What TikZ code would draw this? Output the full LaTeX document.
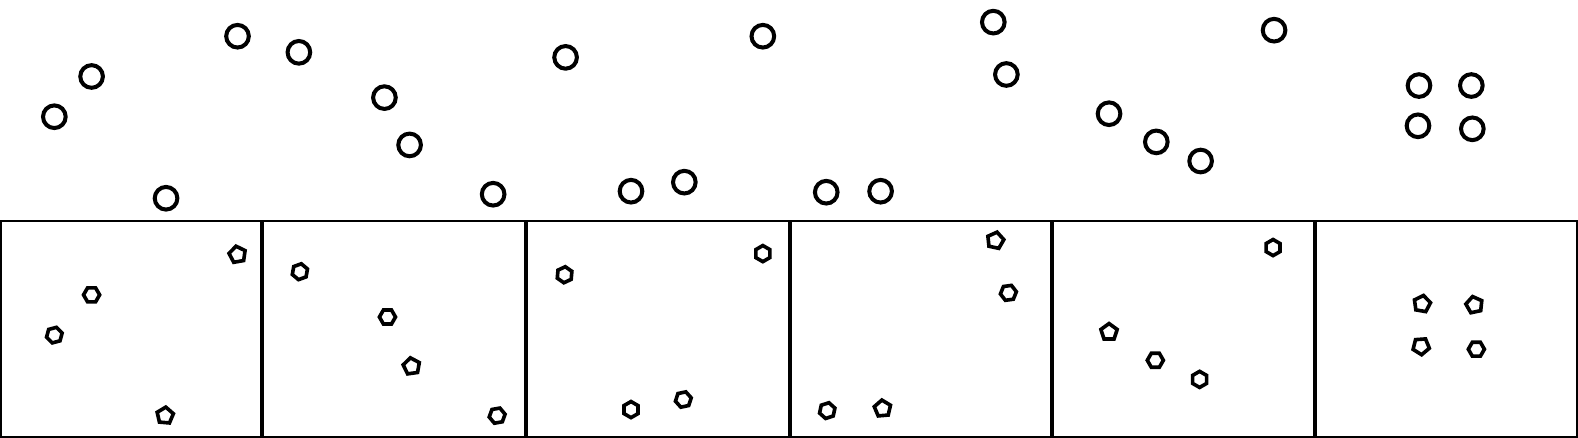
\documentclass[tikz,border=0pt]{standalone}
\usetikzlibrary{shapes.geometric}
\begin{document}
\begin{tikzpicture}[x=1pt,y=-1pt,
  bigc/.style={circle,draw=black,line width=4pt,minimum size=22.5pt,inner sep=0pt},
  hexa/.style={regular polygon,regular polygon sides=6,draw=black,line width=3.6pt,minimum size=16pt,inner sep=0pt},
  penta/.style={regular polygon,regular polygon sides=5,draw=black,line width=3.6pt,minimum size=17pt,inner sep=0pt},
  panel/.style={draw=black,line width=2pt},
  divider/.style={draw=black,line width=4pt}]
\useasboundingbox (0,0) rectangle (1568,435);
% panels
\draw[panel] (1,219.5) rectangle (1567,434);
\draw[divider] (260.5,219) -- (260.5,434);
\draw[divider] (522.5,219) -- (522.5,434);
\draw[divider] (784.5,219) -- (784.5,434);
\draw[divider] (1045,219) -- (1045,434);
\draw[divider] (1307,219) -- (1307,434);
% top circles
\node[bigc] (a1) at (54,116) {};
\node[bigc] (a2) at (91,76) {};
\node[bigc] (a3) at (236,36) {};
\node[bigc] (a4) at (165,197) {};
\node[bigc] (b1) at (297,52) {};
\node[bigc] (b2) at (382,97) {};
\node[bigc] (b3) at (407,144) {};
\node[bigc] (b4) at (490,193) {};
\node[bigc] (c1) at (562,57) {};
\node[bigc] (c2) at (758,36) {};
\node[bigc] (c3) at (627,190) {};
\node[bigc] (c4) at (680,181) {};
\node[bigc] (d1) at (987,22) {};
\node[bigc] (d2) at (1000,74) {};
\node[bigc] (d3) at (821,191) {};
\node[bigc] (d4) at (875,190) {};
\node[bigc] (e1) at (1102,113) {};
\node[bigc] (e2) at (1149,141) {};
\node[bigc] (e3) at (1193,160) {};
\node[bigc] (e4) at (1266,30) {};
\node[bigc] (f1) at (1410,85) {};
\node[bigc] (f2) at (1462,85) {};
\node[bigc] (f3) at (1409,125) {};
\node[bigc] (f4) at (1463,128) {};
% bottom polygons
\node[penta,rotate=10] (pa1) at (236,253) {};
\node[hexa] (pa2) at (91,293) {};
\node[hexa,rotate=15] (pa3) at (54,333) {};
\node[penta,rotate=-5] (pa4) at (164,413) {};
\node[hexa,rotate=20] (pb1) at (298,270) {};
\node[hexa] (pb2) at (385,315) {};
\node[penta,rotate=8] (pb3) at (409,364) {};
\node[hexa,rotate=10] (pb4) at (494,413) {};
\node[hexa,rotate=25] (pc1) at (561,273) {};
\node[hexa,rotate=30] (pc2) at (758,252) {};
\node[hexa,rotate=30] (pc3) at (627,407) {};
\node[hexa,rotate=12] (pc4) at (679,397) {};
\node[penta,rotate=-12] (pd1) at (989,239) {};
\node[hexa,rotate=8] (pd2) at (1002,291) {};
\node[hexa,rotate=18] (pd3) at (822,408) {};
\node[penta,rotate=5] (pd4) at (877,406) {};
\node[hexa,rotate=30] (pe1) at (1265,246) {};
\node[penta] (pe2) at (1102,330) {};
\node[hexa] (pe3) at (1148,358) {};
\node[hexa,rotate=30] (pe4) at (1192,377) {};
\node[penta,rotate=-10] (pf1) at (1413,302) {};
\node[penta,rotate=12] (pf2) at (1465,303) {};
\node[penta,rotate=40] (pf3) at (1412,344) {};
\node[hexa] (pf4) at (1467,347) {};
\end{tikzpicture}
\end{document}
